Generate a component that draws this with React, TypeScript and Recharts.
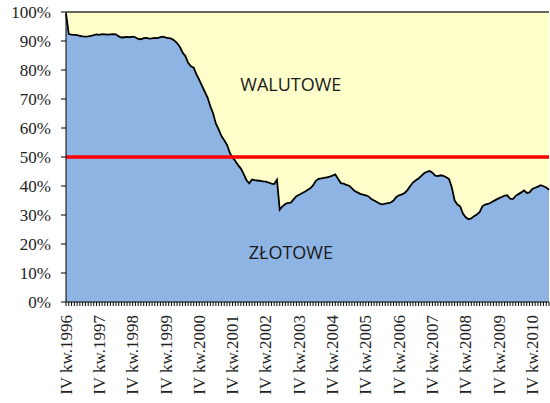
import { AreaChart, Area, XAxis, YAxis, ReferenceLine, ReferenceArea, ReferenceDot } from 'recharts';

// monthly, IV kw.1996 (Dec 1996) .. mid 2011
const startYear = 1996;
const months: string[] = [];
for (let i = 0; i < 175; i++) {
  const m = (11 + i) % 12;
  const y = startYear + Math.floor((11 + i) / 12);
  months.push(`${y}-${String(m + 1).padStart(2, '0')}`);
}

// share of złoty loans, %
const zlotowe = [
  99.5, 92.4, 92.2, 92.1, 92.0, 91.8, 91.6, 91.5, 91.6, 91.8, 92.0, 92.3,
  92.1, 92.4, 92.3, 92.2, 92.3, 92.4, 92.3, 91.6, 91.2, 91.3, 91.4, 91.3,
  91.5, 91.3, 90.7, 90.6, 91.0, 91.1, 90.8, 90.9, 91.1, 91.0, 91.3, 91.5,
  91.2, 91.0, 90.8, 90.2, 89.3, 88.0, 86.0, 84.8, 82.5, 81.3, 80.8, 78.5,
  76.6, 74.5, 72.5, 70.5, 67.5, 65.0, 61.5, 59.5, 57.2, 55.8, 54.2, 51.5,
  49.8, 48.6, 47.2, 46.0, 44.2, 42.0, 40.9, 42.2, 42.0, 41.9, 41.8, 41.6,
  41.5, 41.2, 40.8, 40.7, 42.2, 31.8, 33.0, 33.8, 34.2, 34.3, 35.4, 36.5,
  37.0, 37.5, 38.0, 38.6, 39.2, 40.2, 41.8, 42.5, 42.6, 42.8, 43.0, 43.2,
  43.6, 44.0, 42.5, 41.0, 40.8, 40.4, 40.1, 39.2, 38.3, 37.8, 37.3, 37.0,
  36.8, 36.4, 35.5, 35.0, 34.5, 33.9, 33.7, 33.9, 34.1, 34.3, 35.0, 36.2,
  36.8, 37.1, 37.6, 38.6, 40.0, 41.2, 42.0, 42.6, 43.5, 44.4, 44.9, 45.2,
  44.6, 43.6, 43.4, 43.7, 43.5, 43.0, 42.4, 39.5, 35.0, 33.6, 33.0, 30.5,
  29.2, 28.5, 28.8, 29.6, 30.2, 31.0, 33.0, 33.6, 33.8, 34.2, 34.8, 35.3,
  35.8, 36.2, 36.7, 36.8, 35.6, 35.5, 36.6, 37.2, 37.8, 38.5, 37.6, 37.8,
  39.0, 39.4, 39.8, 40.3, 39.9, 39.5, 38.7,
];

const yTicks = [0, 10, 20, 30, 40, 50, 60, 70, 80, 90, 100];

const data = months.map((m, i) => ({ month: m, zlotowe: zlotowe[i] }));

const serif = '"Liberation Serif", "Times New Roman", serif';

function MonthTick(props: any) {
  const { x, y, index } = props;
  if (index % 12 !== 0) return null;
  const year = startYear + index / 12;
  const ty = y + 7;
  return (
    <text
      x={x}
      y={ty}
      transform={`rotate(-90, ${x}, ${ty})`}
      textAnchor="end"
      dy="0.33em"
      fontFamily={serif}
      fontSize={17}
      fill="#222"
    >
      {`IV kw.${year}`}
    </text>
  );
}

export default function App() {
  return (
    <div style={{ position: 'absolute', left: 0, top: 0, background: '#fff' }}>
      <AreaChart
        width={550}
        height={403}
        data={data}
        margin={{ top: 12, right: 1, left: 0, bottom: 0 }}
      >
        <ReferenceArea y1={0} y2={100} fill="#FFFFCC" fillOpacity={1} stroke="none" />
        <XAxis
          dataKey="month"
          interval={0}
          height={101}
          tickSize={4}
          tick={<MonthTick />}
          axisLine={{ stroke: '#000' }}
          tickLine={{ stroke: '#000' }}
        />
        <YAxis
          domain={[0, 100]}
          ticks={yTicks}
          width={66}
          tickSize={5}
          tickMargin={10}
          tickFormatter={(v: number) => `${v}%`}
          tick={{ fontFamily: serif, fontSize: 17, fill: '#222' }}
          axisLine={{ stroke: '#000' }}
          tickLine={{ stroke: '#000' }}
          allowDataOverflow
        />
        <Area
          type="linear"
          dataKey="zlotowe"
          fill="#8EB4E3"
          fillOpacity={1}
          stroke="#000"
          strokeWidth={1.8}
          isAnimationActive={false}
        />
        <ReferenceLine y={100} stroke="#333" strokeWidth={1.5} />
        <ReferenceLine y={50} stroke="#FF0000" strokeWidth={3.5} />
        <ReferenceDot
          x={months[81]}
          y={75}
          r={0}
          label={{ value: 'WALUTOWE', position: 'center', fontFamily: '"Open Sans", sans-serif', fontSize: 18, fill: '#1a1a1a' }}
        />
        <ReferenceDot
          x={months[81]}
          y={17}
          r={0}
          label={{ value: 'ZŁOTOWE', position: 'center', fontFamily: '"Open Sans", sans-serif', fontSize: 18, fill: '#1a1a1a' }}
        />
      </AreaChart>
    </div>
  );
}
